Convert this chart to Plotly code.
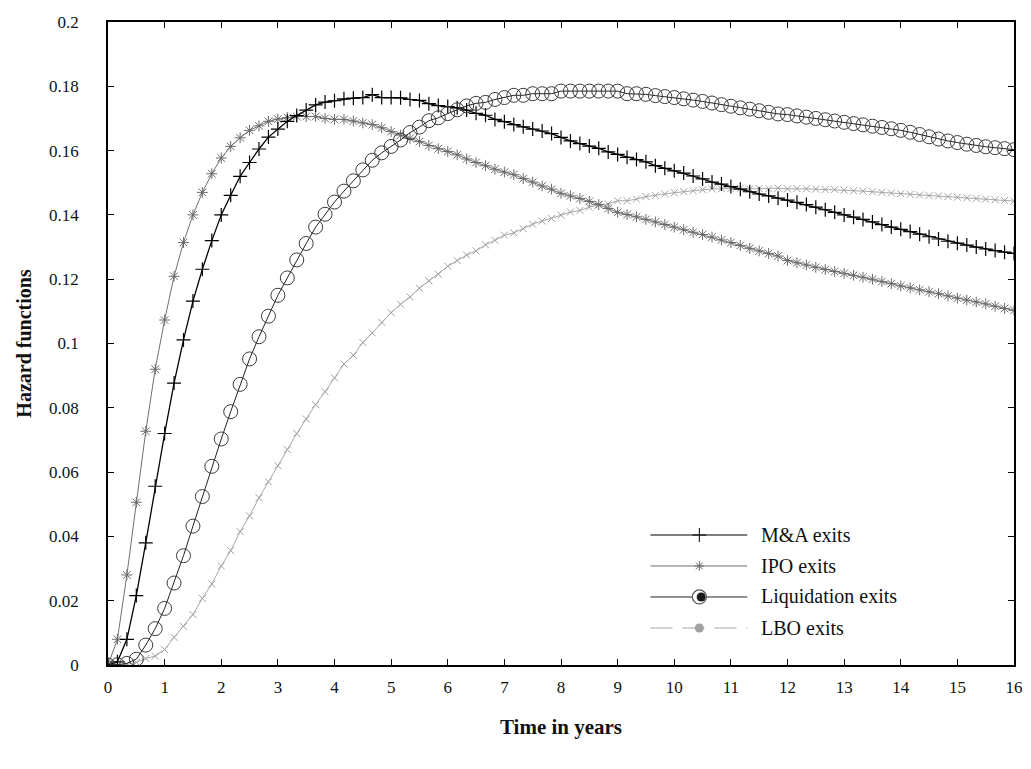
import plotly.graph_objects as go

# ---------------- data ----------------
months = [0, 2, 4, 6, 8, 10, 12, 14, 16, 18, 20, 22, 24, 26, 28, 30, 32, 34, 36, 38,
          40, 42, 44, 46, 48, 50, 52, 54, 56, 58, 60, 62, 64, 66, 68, 70, 72, 74, 76, 78,
          80, 82, 84, 86, 88, 90, 92, 94, 96, 98, 100, 102, 104, 106, 108, 110, 112, 114, 116, 118,
          120, 122, 124, 126, 128, 130, 132, 134, 136, 138, 140, 142, 144, 146, 148, 150, 152, 154, 156, 158,
          160, 162, 164, 166, 168, 170, 172, 174, 176, 178, 180, 182, 184, 186, 188, 190, 192]

ma_exits = [0, 0.001, 0.008, 0.0216, 0.038, 0.0556, 0.072, 0.0877, 0.1011, 0.1132,
            0.1231, 0.132, 0.140, 0.1461, 0.152, 0.1563, 0.1605, 0.1642, 0.1667, 0.1691,
            0.1709, 0.1726, 0.1742, 0.1751, 0.1755, 0.1761, 0.1763, 0.1765, 0.1774, 0.1765,
            0.1765, 0.1764, 0.1759, 0.1756, 0.1746, 0.174, 0.1737, 0.1733, 0.1726, 0.1716,
            0.171, 0.1697, 0.169, 0.1681, 0.1674, 0.1667, 0.1661, 0.1653, 0.1641, 0.163,
            0.1622, 0.1614, 0.1607, 0.1596, 0.1588, 0.1579, 0.1572, 0.1565, 0.1553, 0.1545,
            0.1537, 0.153, 0.1521, 0.1512, 0.1502, 0.1496, 0.1488, 0.148, 0.1472, 0.1465,
            0.1459, 0.1452, 0.1446, 0.1439, 0.1432, 0.1424, 0.1416, 0.1408, 0.1400, 0.1393,
            0.1386, 0.1378, 0.1370, 0.1362, 0.1355, 0.1348, 0.1340, 0.1332, 0.1325, 0.1318,
            0.1312, 0.1306, 0.1300, 0.1294, 0.1289, 0.1284, 0.128]

ipo_exits = [0, 0.008, 0.028, 0.0506, 0.0727, 0.092, 0.1073, 0.1209, 0.1314, 0.140,
             0.147, 0.1528, 0.1577, 0.1613, 0.164, 0.1663, 0.1677, 0.1691, 0.1698, 0.1703,
             0.1706, 0.1706, 0.1706, 0.1700, 0.1697, 0.1697, 0.1692, 0.1686, 0.1681, 0.1671,
             0.1659, 0.1648, 0.1638, 0.1628, 0.1616, 0.1606, 0.1597, 0.1587, 0.1574, 0.1563,
             0.1553, 0.1542, 0.1533, 0.1525, 0.1513, 0.1502, 0.149, 0.148, 0.1467, 0.1459,
             0.1451, 0.1442, 0.1432, 0.142, 0.1408, 0.1401, 0.1394, 0.1386, 0.1378, 0.137,
             0.1362, 0.1354, 0.1346, 0.1339, 0.1331, 0.1322, 0.1314, 0.1305, 0.1296, 0.1288,
             0.128, 0.1272, 0.1258, 0.1251, 0.1244, 0.1237, 0.1230, 0.1224, 0.1218, 0.1212,
             0.1206, 0.12, 0.1193, 0.1186, 0.1179, 0.1173, 0.1167, 0.1161, 0.1155, 0.1148,
             0.1141, 0.1135, 0.1129, 0.1123, 0.1116, 0.1109, 0.1103]

liquidation_exits = [0, 0.0001, 0.0005, 0.0018, 0.0062, 0.0113, 0.0176, 0.0255, 0.034, 0.0432,
                     0.0524, 0.0618, 0.0703, 0.0788, 0.0873, 0.0952, 0.1021, 0.1085, 0.115, 0.1204,
                     0.126, 0.1311, 0.1362, 0.1402, 0.144, 0.1474, 0.1506, 0.154, 0.157, 0.1593,
                     0.1613, 0.1633, 0.1656, 0.1673, 0.1693, 0.1702, 0.1715, 0.1727, 0.1739, 0.1747,
                     0.175, 0.1759, 0.1765, 0.1772, 0.1772, 0.1777, 0.1777, 0.1777, 0.1785, 0.1785,
                     0.1785, 0.1785, 0.1785, 0.1785, 0.1785, 0.1777, 0.1777, 0.1775, 0.1771, 0.1768,
                     0.1765, 0.1761, 0.1757, 0.1753, 0.1748, 0.1743, 0.1738, 0.1733, 0.1729, 0.1724,
                     0.1719, 0.1714, 0.1712, 0.1708, 0.1704, 0.17, 0.1696, 0.1692, 0.1688, 0.1684,
                     0.168, 0.1676, 0.1672, 0.1668, 0.1663, 0.1657, 0.165, 0.1643, 0.1636, 0.163,
                     0.1625, 0.162, 0.1616, 0.1612, 0.1609, 0.1606, 0.1603]

lbo_exits = [0, 0, 0.0002, 0.0008, 0.002, 0.0028, 0.0048, 0.0086, 0.012, 0.0157,
             0.0207, 0.0252, 0.0308, 0.0356, 0.0415, 0.0464, 0.052, 0.057, 0.062, 0.067,
             0.072, 0.0765, 0.081, 0.085, 0.0893, 0.0936, 0.0963, 0.1003, 0.1033, 0.1066,
             0.1096, 0.1122, 0.1145, 0.1172, 0.1195, 0.1215, 0.124, 0.1258, 0.1275, 0.1288,
             0.1307, 0.1321, 0.1337, 0.1344, 0.1357, 0.1371, 0.1381, 0.1389, 0.1399, 0.1409,
             0.1414, 0.1424, 0.1431, 0.1434, 0.1444, 0.1444, 0.1449, 0.1457, 0.146, 0.1465,
             0.1469, 0.1472, 0.1475, 0.1478, 0.1481, 0.1481, 0.1482, 0.1483, 0.1481, 0.1482,
             0.1481, 0.1483, 0.1481, 0.1482, 0.1481, 0.1480, 0.1479, 0.1479, 0.1477, 0.1475,
             0.1474, 0.1472, 0.1470, 0.1468, 0.1466, 0.1464, 0.1462, 0.1460, 0.1459, 0.1457,
             0.1455, 0.1453, 0.1451, 0.1449, 0.1447, 0.1445, 0.1443]

series_names = ["M&A exits", "IPO exits", "Liquidation exits", "LBO exits"]
x_ticks = [0, 1, 2, 3, 4, 5, 6, 7, 8, 9, 10, 11, 12, 13, 14, 15, 16]
y_ticks = [0, 0.02, 0.04, 0.06, 0.08, 0.1, 0.12, 0.14, 0.16, 0.18, 0.2]
y_tick_text = ["0", "0.02", "0.04", "0.06", "0.08", "0.1", "0.12", "0.14", "0.16", "0.18", "0.2"]

years = [m / 12 for m in months]

FONT = "Liberation Serif"

fig = go.Figure()

# main series
fig.add_trace(go.Scatter(
    x=years, y=lbo_exits, mode="lines+markers", name=series_names[3], showlegend=False,
    line=dict(color="#a8a8a8", width=1),
    marker=dict(symbol="x-thin", size=7, line=dict(color="#a0a0a0", width=1))))
fig.add_trace(go.Scatter(
    x=years, y=ipo_exits, mode="lines+markers", name=series_names[1], showlegend=False,
    line=dict(color="#707070", width=1),
    marker=dict(symbol="asterisk-open", size=9, color="#6a6a6a", line=dict(color="#6a6a6a", width=1))))
fig.add_trace(go.Scatter(
    x=years, y=ma_exits, mode="lines+markers", name=series_names[0], showlegend=False,
    line=dict(color="#000000", width=1.3),
    marker=dict(symbol="cross-thin", size=10, line=dict(color="#000000", width=1.2))))
fig.add_trace(go.Scatter(
    x=years, y=liquidation_exits, mode="lines+markers", name=series_names[2], showlegend=False,
    line=dict(color="#222222", width=1),
    marker=dict(symbol="circle-open", size=14, color="#3a3a3a", line=dict(color="#3a3a3a", width=1))))

# ---------------- hand-made legend on an overlay axis ----------------
leg_x0, leg_x1, leg_xm, leg_tx = 0.5987, 0.7056, 0.6527, 0.7188
leg_rows = [0.2022, 0.154, 0.1058, 0.0575]
leg_line_styles = [
    dict(color="#000000", width=1.2),
    dict(color="#707070", width=1),
    dict(color="#222222", width=1),
    dict(color="#a8a8a8", width=1, dash="22px,10px"),
]
for i, row in enumerate(leg_rows):
    fig.add_trace(go.Scatter(x=[leg_x0, leg_x1], y=[row, row], mode="lines",
                             line=leg_line_styles[i], xaxis="x2", yaxis="y2",
                             showlegend=False, hoverinfo="skip"))
    fig.add_annotation(x=leg_tx, y=row, xref="x2", yref="y2", text=series_names[i],
                       showarrow=False, xanchor="left", yanchor="middle",
                       font=dict(family=FONT, size=20, color="#111111"))
leg_markers = [
    dict(symbol="cross-thin", size=10, line=dict(color="#000000", width=1)),
    dict(symbol="asterisk-open", size=8, color="#6a6a6a", line=dict(color="#6a6a6a", width=1)),
    dict(symbol="circle", size=14, color="#ffffff", line=dict(color="#555555", width=1.2)),
    dict(symbol="circle", size=9, color="#a0a0a0", line=dict(color="#a0a0a0", width=0)),
]
for i, row in enumerate(leg_rows):
    fig.add_trace(go.Scatter(x=[leg_xm], y=[row], mode="markers", marker=leg_markers[i],
                             xaxis="x2", yaxis="y2", showlegend=False, hoverinfo="skip"))
fig.add_trace(go.Scatter(x=[leg_xm + 0.002], y=[leg_rows[2]], mode="markers",
                         marker=dict(symbol="circle", size=9, color="#1a1a1a"),
                         xaxis="x2", yaxis="y2", showlegend=False, hoverinfo="skip"))

axis_common = dict(
    showline=True, linecolor="black", linewidth=1.5, mirror="ticks",
    ticks="inside", ticklen=6, tickwidth=1, tickcolor="black",
    showgrid=False, zeroline=False,
    tickfont=dict(family=FONT, size=17, color="#111111"),
)

fig.update_layout(
    width=1031, height=769,
    margin=dict(l=108, r=8, t=22, b=104),
    paper_bgcolor="white", plot_bgcolor="white",
    showlegend=False,
    xaxis=dict(range=[0, 16], tickvals=x_ticks, ticklabelstandoff=6,
               title=dict(text="<b>Time in years</b>", font=dict(family=FONT, size=21, color="#111111"),
                          standoff=23),
               **axis_common),
    yaxis=dict(range=[0, 0.2], tickvals=y_ticks, ticktext=y_tick_text, ticklabelstandoff=24,
               title=dict(text="<b>Hazard functions</b>", font=dict(family=FONT, size=20, color="#111111"),
                          standoff=12),
               **axis_common),
    xaxis2=dict(range=[0, 1], overlaying="x", visible=False, fixedrange=True),
    yaxis2=dict(range=[0, 1], overlaying="y", visible=False, fixedrange=True),
)

fig.write_html(
    "out.html",
    config={"displayModeBar": False},
    post_script="document.body.style.margin='0';document.body.style.overflow='hidden';",
)
